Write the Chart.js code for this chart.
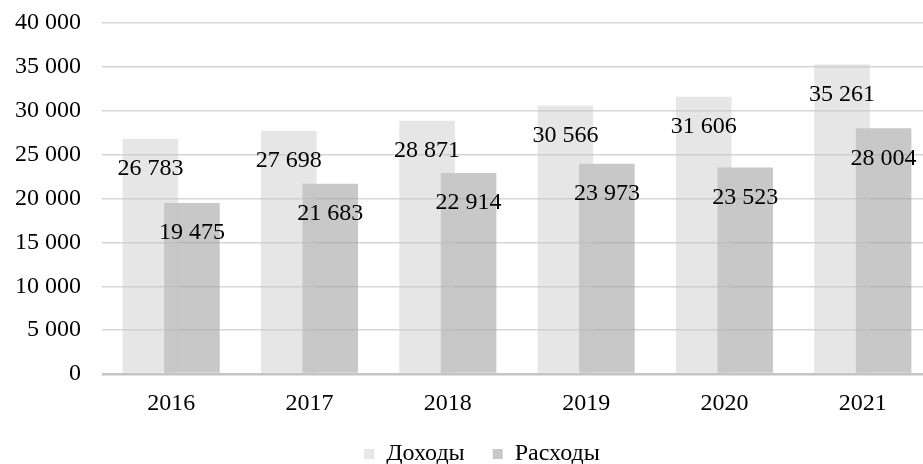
<!DOCTYPE html>
<html>
<head>
<meta charset="utf-8">
<script src="https://cdn.jsdelivr.net/npm/chart.js@4/dist/chart.umd.min.js"></script>
<style>
  html, body { margin: 0; padding: 0; background: #fff; }
  #wrap { width: 923px; height: 464px; overflow: hidden; position: relative; }
  #box { width: 964px; height: 476px; position: absolute; left: 0; top: 0; }
</style>
</head>
<body>
<div id="wrap"><div id="box"><canvas id="c"></canvas></div></div>
<script>
const categories = ['2016', '2017', '2018', '2019', '2020', '2021'];
const incomeLabel = 'Доходы';
const expenseLabel = 'Расходы';
const income = [26783, 27698, 28871, 30566, 31606, 35261];
const expense = [19475, 21683, 22914, 23973, 23523, 28004];
const yMin = 0, yMax = 40000, yStep = 5000;

const fmt = v => String(v).replace(/\B(?=(\d{3})+(?!\d))/g, ' ');
const FONT = '"Liberation Serif", "Times New Roman", serif';
const FS = 24;

const barLabels = {
  id: 'barLabels',
  afterDraw(chart) {
    const ctx = chart.ctx;
    ctx.save();
    ctx.font = FS + 'px ' + FONT;
    ctx.fillStyle = '#000';
    ctx.textAlign = 'center';
    ctx.textBaseline = 'middle';
    chart.data.datasets.forEach((ds, i) => {
      const meta = chart.getDatasetMeta(i);
      meta.data.forEach((bar, j) => {
        ctx.fillText(fmt(ds.data[j]), bar.x, bar.y + 30);
      });
    });
    ctx.restore();
  }
};

new Chart(document.getElementById('c'), {
  type: 'bar',
  data: {
    labels: categories,
    datasets: [
      { label: incomeLabel, data: income, backgroundColor: 'rgba(200,200,200,0.45)', borderWidth: 0,
        categoryPercentage: 0.6, barPercentage: 1.34 },
      { label: expenseLabel, data: expense, backgroundColor: 'rgba(163,163,163,0.6)', borderWidth: 0,
        categoryPercentage: 0.6, barPercentage: 1.34 }
    ]
  },
  options: {
    responsive: true,
    maintainAspectRatio: false,
    animation: false,
    events: [],
    layout: { padding: { top: 23, right: 0, left: 0, bottom: 0 } },
    plugins: {
      tooltip: { enabled: false },
      legend: {
        position: 'bottom',
        labels: {
          boxWidth: 10, boxHeight: 10, padding: 28,
          color: '#000',
          font: { family: FONT, size: FS }
        }
      }
    },
    scales: {
      x: {
        grid: { display: false, drawTicks: false },
        border: { display: false },
        ticks: { color: '#000', font: { family: FONT, size: FS }, padding: 15, maxRotation: 0 },
        afterFit: s => { s.height = 40; }
      },
      y: {
        min: yMin, max: yMax,
        ticks: { stepSize: yStep, color: '#000', font: { family: FONT, size: FS }, padding: 0,
                 callback: v => fmt(v) },
        grid: {
          drawTicks: true,
          tickLength: 21,
          tickColor: 'rgba(0,0,0,0)',
          color: c => c.tick && c.tick.value === 0 ? '#c4c4c4' : '#d6d6d6',
          lineWidth: c => c.tick && c.tick.value === 0 ? 2.5 : 1.5
        },
        border: { display: false },
        afterFit: s => { s.width = 102; }
      },
      yRightMargin: {
        type: 'linear',
        position: 'right',
        min: yMin, max: yMax,
        grid: { display: false, drawTicks: false },
        border: { display: false },
        ticks: { display: false },
        afterFit: s => { s.width = 32; }
      }
    }
  },
  plugins: [barLabels]
});
</script>
</body>
</html>
